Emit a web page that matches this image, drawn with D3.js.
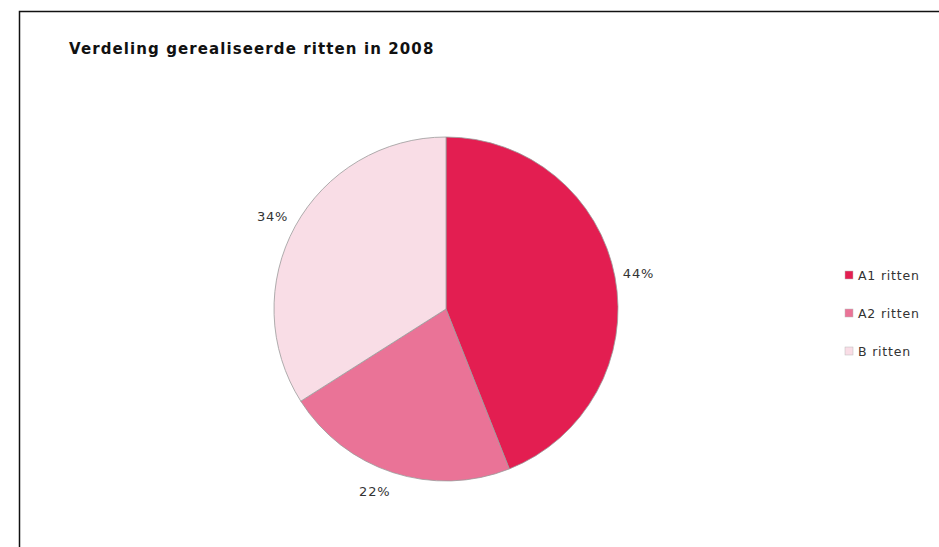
<!DOCTYPE html>
<html>
<head>
<meta charset="utf-8">
<script src="https://cdn.jsdelivr.net/npm/d3@7"></script>
<style>
  html, body { margin: 0; padding: 0; background: #fff; }
  svg { display: block; }
</style>
</head>
<body>
<script>
const categories = ["A1 ritten", "A2 ritten", "B ritten"];
const values = [44, 22, 34];
const colors = ["#e31e51", "#ea7397", "#f9dde6"];
const title = "Verdeling gerealiseerde ritten in 2008";

const W = 939, H = 547;
const svg = d3.select("body").append("svg").attr("width", W).attr("height", H);

// frame (top and left lines)
svg.append("path")
  .attr("d", "M19.5,547 L19.5,11.5 L939,11.5")
  .attr("fill", "none").attr("stroke", "#111").attr("stroke-width", 1.5);

svg.append("text")
  .attr("x", 69).attr("y", 54)
  .attr("font-family", "DejaVu Sans, Verdana, sans-serif")
  .attr("font-weight", "bold").attr("font-size", 15)
  .attr("letter-spacing", 1.1)
  .attr("fill", "#111")
  .text(title);

const cx = 446, cy = 309, R = 172;
const g = svg.append("g").attr("transform", `translate(${cx},${cy})`);

const pie = d3.pie().sort(null).value(d => d)(values);
const arc = d3.arc().innerRadius(0).outerRadius(R);

g.selectAll("path.slice").data(pie).join("path")
  .attr("class", "slice")
  .attr("d", arc)
  .attr("fill", (d, i) => colors[i])
  .attr("stroke", "#9a9a9a").attr("stroke-width", 0.8);

const lrx = 180, lry = 192;
g.selectAll("text.lbl").data(pie).join("text")
  .attr("class", "lbl")
  .attr("transform", d => {
    const a = (d.startAngle + d.endAngle) / 2;
    return `translate(${lrx * Math.sin(a)},${-lry * Math.cos(a)})`;
  })
  .attr("text-anchor", d => ((d.startAngle + d.endAngle) / 2 < Math.PI ? "start" : "end"))
  .attr("dominant-baseline", "central")
  .attr("font-family", "DejaVu Sans, Verdana, sans-serif")
  .attr("font-size", 13).attr("letter-spacing", 0.8).attr("fill", "#333")
  .text(d => d.value + "%");

const leg = svg.append("g").attr("transform", "translate(845,275)");
const ly = d3.scalePoint().domain(categories).range([0, 76]);
const li = leg.selectAll("g").data(categories).join("g")
  .attr("transform", d => `translate(0,${ly(d)})`);
li.append("rect").attr("x", 0).attr("y", -4).attr("width", 8).attr("height", 8)
  .attr("fill", (d, i) => colors[i]).attr("stroke", "#bbb").attr("stroke-width", 0.5);
li.append("text").attr("x", 13).attr("y", 0)
  .attr("dominant-baseline", "central")
  .attr("font-family", "DejaVu Sans, Verdana, sans-serif")
  .attr("font-size", 12.5).attr("letter-spacing", 0.8).attr("fill", "#333")
  .text(d => d);
</script>
</body>
</html>
